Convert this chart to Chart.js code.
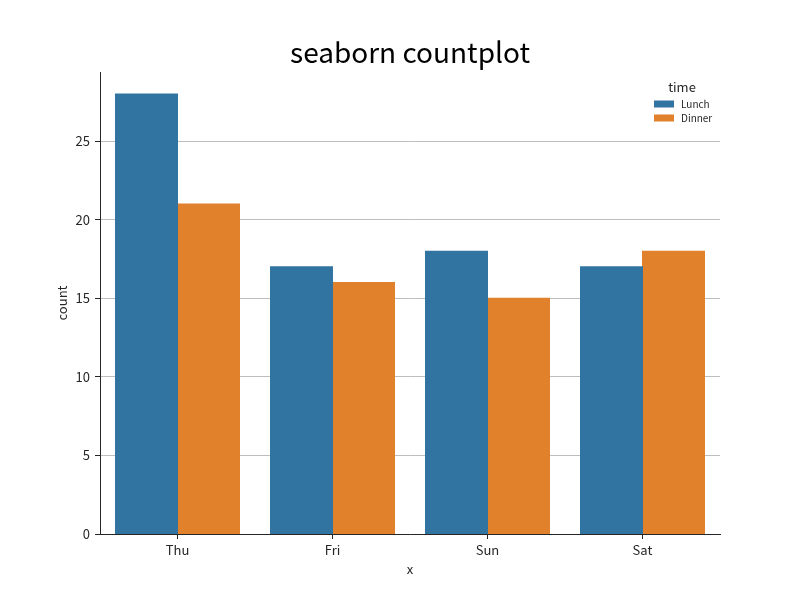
<!DOCTYPE html>
<html>
<head>
<meta charset="utf-8">
<script src="https://cdn.jsdelivr.net/npm/chart.js@4/dist/chart.umd.min.js"></script>
<style>
  html, body { margin: 0; padding: 0; background: #fff; }
</style>
</head>
<body>
<canvas id="c" width="800" height="600"></canvas>
<script>
var days = ['Thu', 'Fri', 'Sun', 'Sat'];
var lunch = [28, 17, 18, 17];
var dinner = [21, 16, 15, 18];
var yTicks = [0, 5, 10, 15, 20, 25];

var FONT = "'Noto Sans CJK SC', 'Noto Sans', sans-serif";

// title centred over the plot area + seaborn style legend inside it
var decorations = {
    id: 'decorations',
    afterDraw: function (chart) {
        var ctx = chart.ctx;
        var a = chart.chartArea;
        ctx.save();
        ctx.fillStyle = '#000';
        ctx.font = '28px ' + FONT;
        ctx.textAlign = 'center';
        ctx.textBaseline = 'middle';
        ctx.fillText('seaborn countplot', (a.left + a.right) / 2, 52);

        ctx.fillStyle = '#262626';
        ctx.font = '13px ' + FONT;
        ctx.fillText('time', a.right - 38, 87);
        ctx.font = '10px ' + FONT;
        ctx.textAlign = 'left';
        chart.data.datasets.forEach(function (ds, i) {
            var y = 104 + i * 14;
            ctx.fillStyle = ds.backgroundColor;
            ctx.fillRect(a.right - 66, y - 3.5, 20, 7);
            ctx.fillStyle = '#262626';
            ctx.fillText(ds.label, a.right - 39, y);
        });
        ctx.restore();
    }
};

new Chart(document.getElementById('c'), {
    type: 'bar',
    data: {
        labels: days,
        datasets: [
            { label: 'Lunch', data: lunch, backgroundColor: '#3274a1', borderWidth: 0, inflateAmount: 0.5 },
            { label: 'Dinner', data: dinner, backgroundColor: '#e1812c', borderWidth: 0, inflateAmount: 0.5 }
        ]
    },
    options: {
        responsive: false,
        animation: false,
        layout: { padding: { left: 0, right: 80, top: 72, bottom: 0 } },
        datasets: { bar: { categoryPercentage: 0.8, barPercentage: 1.0 } },
        plugins: {
            legend: { display: false },
            tooltip: { enabled: false },
            title: { display: false }
        },
        scales: {
            x: {
                offset: true,
                grid: { display: true, drawOnChartArea: false, offset: false, tickLength: 5, tickColor: '#262626' },
                border: { display: true, color: '#262626', width: 1 },
                ticks: { color: '#262626', font: { family: FONT, size: 13 }, padding: 3 },
                title: { display: true, text: 'x', color: '#262626', font: { family: FONT, size: 13 }, padding: { top: 0, bottom: 23 } },
                afterFit: function (s) { s.height = 66; }
            },
            y: {
                min: 0,
                max: 29.4,
                afterBuildTicks: function (s) { s.ticks = yTicks.map(function (v) { return { value: v }; }); },
                grid: { color: '#bdbdbd', lineWidth: 1, tickLength: 5, tickColor: '#262626' },
                border: { display: true, color: '#262626', width: 1 },
                ticks: { color: '#262626', font: { family: FONT, size: 13 }, padding: 5 },
                title: { display: true, text: 'count', color: '#262626', font: { family: FONT, size: 13 }, padding: { top: 54, bottom: 0 } },
                afterFit: function (s) { s.width = 100; }
            }
        }
    },
    plugins: [decorations]
});
</script>
</body>
</html>
